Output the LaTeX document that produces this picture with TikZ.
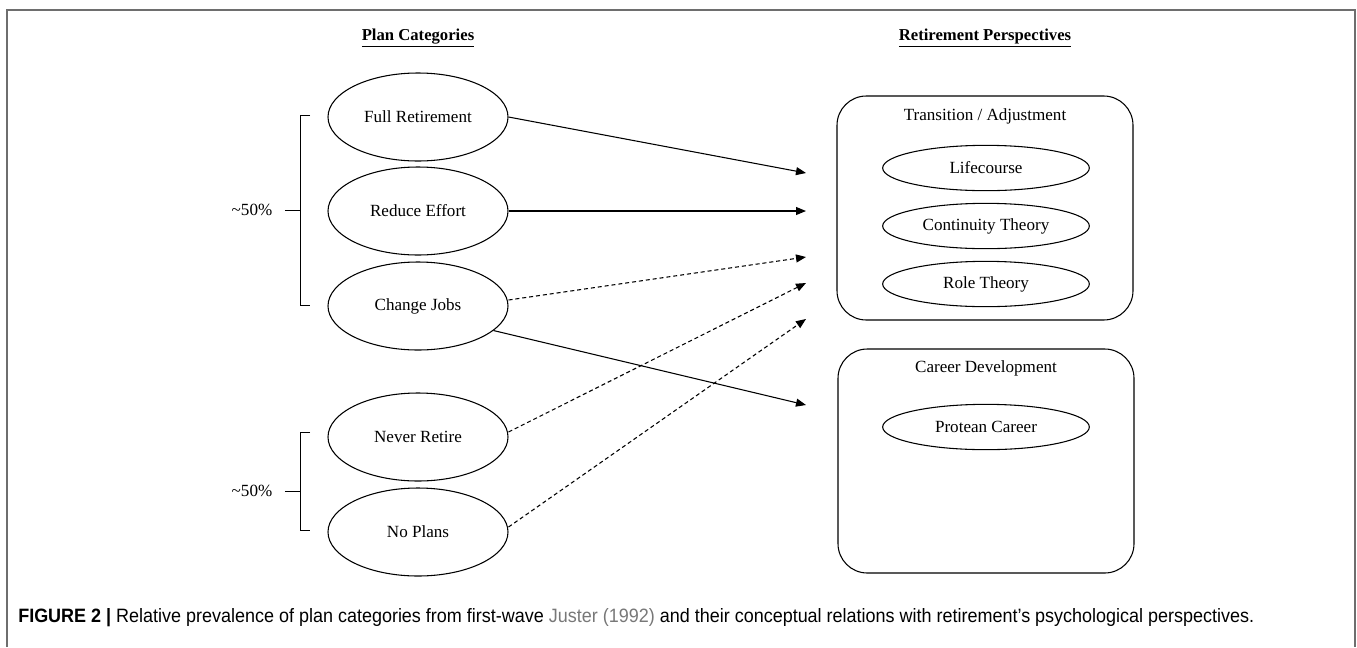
\documentclass[tikz,border=0pt]{standalone}
\usepackage{fontspec}
\setmainfont{Liberation Serif}
\newfontfamily\capfont[FakeStretch=0.93]{Liberation Sans}
\usetikzlibrary{shapes.geometric,arrows.meta}
\definecolor{framegray}{RGB}{110,110,110}
\definecolor{capgray}{RGB}{120,120,120}
\tikzset{
	plan/.style={draw, ellipse, line width=0.8pt, inner sep=0pt, minimum width=135pt, minimum height=66pt, font=\fontsize{12.8}{15}\selectfont},
	theory/.style={draw, ellipse, line width=0.8pt, inner sep=0pt, minimum width=155pt, minimum height=34pt, font=\fontsize{12.8}{15}\selectfont},
	persp/.style={draw, rounded corners=22pt, line width=0.8pt, inner sep=0pt, minimum width=222pt, minimum height=168pt},
	link/.style={line width=0.8pt, -{Triangle[length=7.5pt,width=6pt]}},
	maybe/.style={link, dash pattern=on 3pt off 2.2pt}
}
\begin{document}
\begin{tikzpicture}[x=0.75pt,y=-0.75pt]
		\useasboundingbox (0,0) rectangle (1357,647);
		\draw[framegray, line width=1.1pt] (7,647) -- (7,10) -- (1355,10) -- (1355,647);
		% column titles
		\node[font=\bfseries\fontsize{12.5}{15}\selectfont] (plantitle) at (418,38) {\underline{Plan Categories}};
		\node[font=\bfseries\fontsize{12.5}{15}\selectfont] (persptitle) at (985,38) {\underline{Retirement Perspectives}};
		% plan categories
		\node[plan] (full) at (418,117) {Full Retirement};
		\node[plan] (reduce) at (418,211) {Reduce Effort};
		\node[plan] (change) at (418,306) {Change Jobs};
		\node[plan] (never) at (418,437) {Never Retire};
		\node[plan] (noplans) at (418,532) {No Plans};
		% brackets
		\def\bx{300};
		\draw[line width=0.7pt] (\bx+10,115) -- (\bx,115) -- (\bx,305) -- (\bx+10,305);
		\draw[line width=0.7pt] (\bx+10,432) -- (\bx,432) -- (\bx,530) -- (\bx+10,530);
		\node[font=\fontsize{12.8}{15}\selectfont] (pcttop) at (252,210) {\textasciitilde50\%};
		\node[font=\fontsize{12.8}{15}\selectfont] (pctbot) at (252,491) {\textasciitilde50\%};
		\coordinate (bracetop) at (\bx,210);
		\coordinate (bracebot) at (\bx,491);
		\draw[line width=0.7pt] (pcttop.east) ++(8,0) -- (bracetop);
		\draw[line width=0.7pt] (pctbot.east) ++(8,0) -- (bracebot);
		% perspectives
		\node[persp] (trans) at (985,208) {};
		\node[font=\fontsize{12.8}{15}\selectfont] (transtitle) at (985,116) {Transition / Adjustment};
		\node[theory] (life) at (986,168) {Lifecourse};
		\node[theory] (cont) at (986,226) {Continuity Theory};
		\node[theory] (role) at (986,284) {Role Theory};
		\node[persp] (career) at (986,461) {};
		\node[font=\fontsize{12.8}{15}\selectfont] (careertitle) at (986,368) {Career Development};
		\node[theory] (protean) at (986,427) {Protean Career};
		% arrow ends
		\coordinate (tfull) at (806,173);
		\coordinate (treduce) at (806,211);
		\coordinate (tchange) at (806,257);
		\coordinate (tnever) at (806,283);
		\coordinate (tnoplans) at (806,319);
		\coordinate (tcareer) at (806,405);
		\draw[link] (full.east) -- (tfull);
		\draw[link] (reduce.east) -- (treduce);
		\draw[maybe] (change.east) ++(0,-6) -- (tchange);
		\draw[maybe] (never.east) ++(0,-5) -- (tnever);
		\draw[maybe] (noplans.east) ++(0,-5) -- (tnoplans);
		\draw[link] (change.-18) -- (tcareer);
		% caption
		\node[anchor=base west, inner sep=0pt, font=\capfont\fontsize{14.5}{17}\selectfont] (caption) at (18,622) {\textbf{FIGURE 2 |} Relative prevalence of plan categories from first-wave \textcolor{capgray}{Juster (1992)} and their conceptual relations with retirement’s psychological perspectives.};
		\end{tikzpicture}
\end{document}
